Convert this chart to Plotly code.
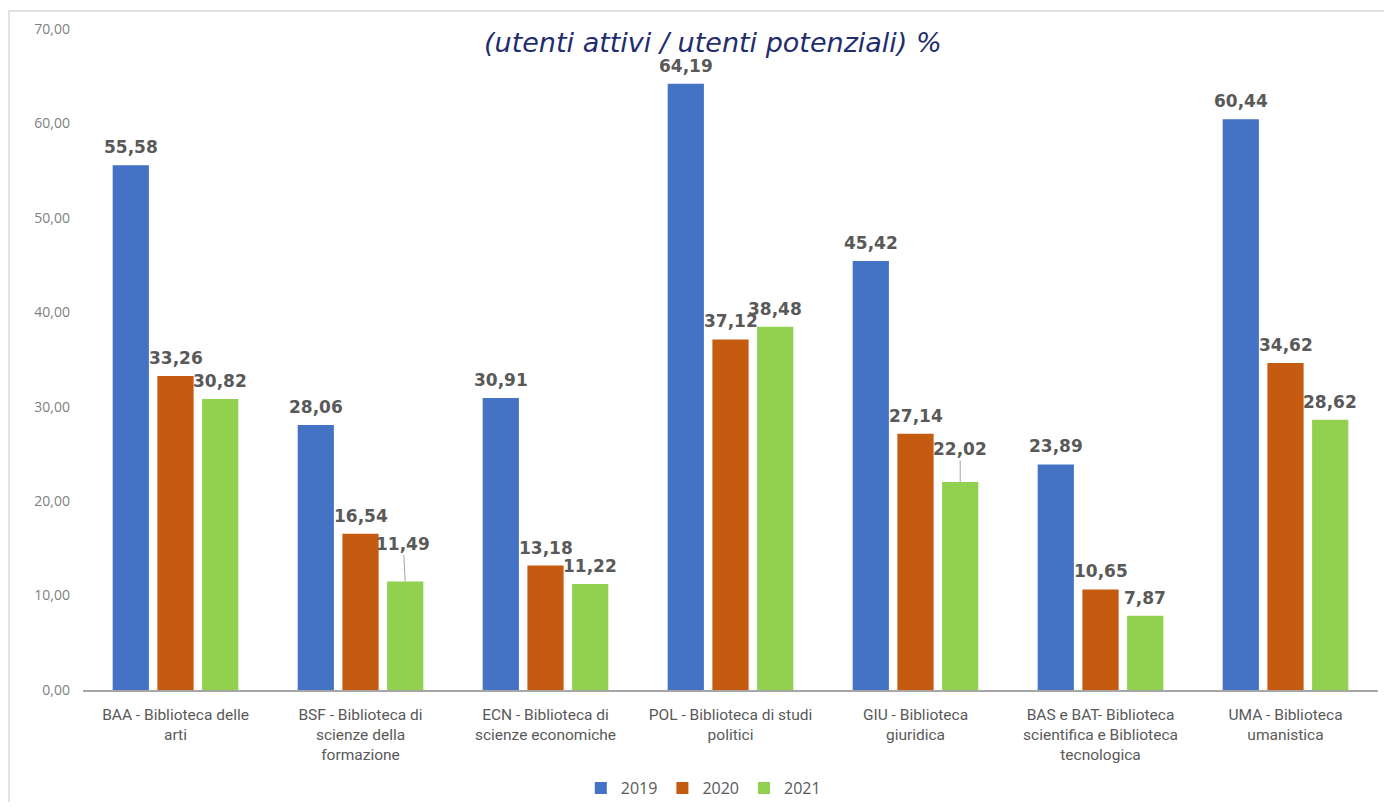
import plotly.graph_objects as go

categories = [
    "BAA - Biblioteca delle<br>arti",
    "BSF - Biblioteca di<br>scienze della<br>formazione",
    "ECN - Biblioteca di<br>scienze economiche",
    "POL - Biblioteca di studi<br>politici",
    "GIU - Biblioteca<br>giuridica",
    "BAS e BAT- Biblioteca<br>scientifica e Biblioteca<br>tecnologica",
    "UMA - Biblioteca<br>umanistica",
]
series_names = ["2019", "2020", "2021"]
v2019 = [55.58, 28.06, 30.91, 64.19, 45.42, 23.89, 60.44]
v2020 = [33.26, 16.54, 13.18, 37.12, 27.14, 10.65, 34.62]
v2021 = [30.82, 11.49, 11.22, 38.48, 22.02, 7.87, 28.62]
series_values = [v2019, v2020, v2021]
colors = ["#4472C4", "#C55A11", "#92D050"]
y_ticks = [0, 10, 20, 30, 40, 50, 60, 70]
title_text = "(utenti attivi / utenti potenziali) %"

# labels that use a leader line: (series index, category index) -> (ax, ay)
leader = {(2, 1): (-2, -38), (2, 4): (0, -33)}

BARGAP = 0.275
BARGROUPGAP = 0.19
slot = (1 - BARGAP) / 3

fig = go.Figure()
for k, (name, vals) in enumerate(zip(series_names, series_values)):
    fig.add_trace(go.Bar(
        name=name, x=list(range(len(categories))), y=vals,
        marker=dict(color=colors[k], line=dict(width=0)),
        hoverinfo="skip",
    ))

def fmt(v):
    return f"{v:.2f}".replace(".", ",")

annotations = []
for k, vals in enumerate(series_values):
    for i, v in enumerate(vals):
        xpos = i + (k - 1) * slot
        font = dict(family="DejaVu Sans", size=17, color="#595959", weight="bold")
        if (k, i) in leader:
            ax, ay = leader[(k, i)]
            annotations.append(dict(
                x=xpos, y=v, xref="x", yref="y", text=fmt(v), showarrow=True,
                arrowhead=0, arrowwidth=1, arrowcolor="#A6A6A6", ax=ax, ay=ay,
                font=font, standoff=0,
            ))
        else:
            annotations.append(dict(
                x=xpos, y=v, xref="x", yref="y", text=fmt(v), showarrow=False,
                yanchor="bottom", yshift=6, font=font,
            ))

annotations.append(dict(
    x=0.4865, y=0.980, xref="paper", yref="paper", text="<i>" + title_text + "</i>",
    showarrow=False, xanchor="center", yanchor="middle",
    font=dict(family="DejaVu Sans", size=27, color="#1F2D6E"),
))

# page body has an 8px margin; figure is sized to fit the 1392x810 window
fig.update_layout(
    width=1376, height=794,
    margin=dict(l=75, r=6, t=21, b=112, autoexpand=False),
    paper_bgcolor="white", plot_bgcolor="white",
    barmode="group", bargap=BARGAP, bargroupgap=BARGROUPGAP,
    separators=",.",
    showlegend=True,
    legend=dict(
        orientation="h", x=0.479, xanchor="center",
        yref="container", y=0.0176, yanchor="middle",
        font=dict(family="Open Sans", size=16, color="#595959"),
        itemwidth=30, traceorder="normal",
    ),
    annotations=annotations,
    shapes=[
        dict(type="rect", xref="paper", yref="paper",
             x0=-0.0571, x1=1.05, y0=-0.3, y1=1.0272,
             line=dict(color="#D9D9D9", width=1.5), layer="below"),
    ],
    xaxis=dict(
        tickmode="array", tickvals=list(range(len(categories))), ticktext=categories,
        range=[-0.5, len(categories) - 0.5], automargin=False,
        showline=True, linecolor="#A6A6A6", linewidth=2,
        showgrid=False, zeroline=False, ticks="",
        ticklabelstandoff=9,
        tickfont=dict(family="Roboto", size=15.5, color="#595959"),
    ),
    yaxis=dict(
        range=[0, 70], tickvals=y_ticks, tickformat=".2f", automargin=False,
        showgrid=False, zeroline=False, showline=False, ticks="",
        ticklabelstandoff=12,
        tickfont=dict(family="Open Sans", size=14, color="#7F7F7F"),
    ),
)

fig.write_html("out.html")
